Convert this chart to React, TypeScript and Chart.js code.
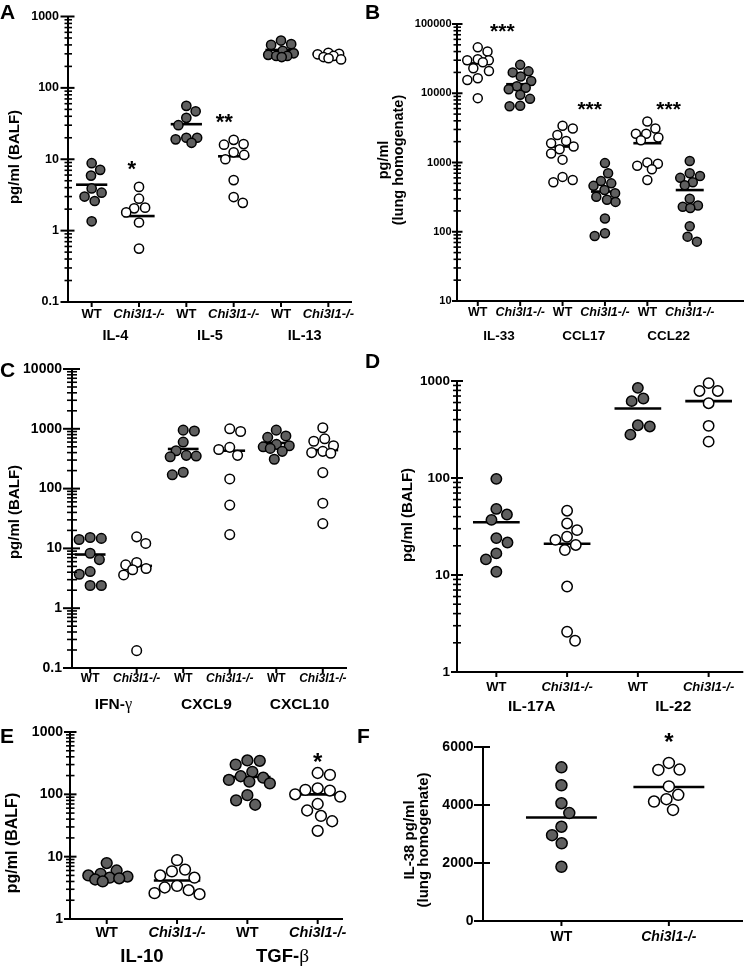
import React, { useEffect, useRef } from 'react';
import { Chart, registerables } from 'chart.js';

Chart.register(...registerables);

const FONT = "'Liberation Sans', Arial, sans-serif";
const GRAY = '#5f5f5f';
const KO = 'Chi3l1-/-';

// ---------------- DATA ----------------
// Panel A (BALF, pg/ml)
const catsA = ['WT', KO, 'WT', KO, 'WT', KO];
const groupsA = ['IL-4', 'IL-5', 'IL-13'];
const aIL4WT = [8.8, 7.1, 5.9, 3.9, 3.4, 3.0, 2.6, 1.35];
const aIL4KO = [4.1, 2.8, 2.1, 2.05, 1.8, 1.3, 0.56];
const aIL5WT = [56, 47, 38, 30, 20, 19, 20, 17];
const aIL5KO = [18.7, 16.3, 16, 12.5, 11.5, 10, 5.1, 2.95, 2.45];
const aIL13WT = [460, 410, 400, 330, 305, 290, 280, 280, 270];
const aIL13KO = [310, 300, 295, 280, 270, 260, 250];
const meansA = [4.4, 1.6, 31, 11, 340, 300];
const starsA = [{ x: 0.85, y: 8.8, t: '*' }, { x: 2.8, y: 40, t: '**' }];
const yLabelsA = [0.1, 1, 10, 100, 1000];

// Panel B (lung homogenate, pg/ml)
const catsB = ['WT', KO, 'WT', KO, 'WT', KO];
const groupsB = ['IL-33', 'CCL17', 'CCL22'];
const bIL33WT = [46000, 40000, 31000, 30000, 30000, 28000, 23000, 21000, 16500, 15500, 8500];
const bIL33KO = [25700, 20700, 20000, 17500, 15000, 12600, 12000, 11400, 9500, 8300, 6600, 6500];
const bCCL17WT = [3400, 3100, 2500, 2050, 1900, 1700, 1550, 1350, 1100, 620, 560, 520];
const bCCL17KO = [980, 700, 540, 500, 460, 400, 360, 320, 290, 270, 155, 95, 87];
const bCCL22WT = [3900, 3100, 2600, 2600, 2300, 2100, 1000, 960, 900, 800, 560];
const bCCL22KO = [1050, 700, 640, 600, 520, 470, 300, 240, 230, 220, 120, 85, 72];
const meansB = [27000, 13500, 1700, 380, 1900, 400];
const starsB = [{ x: 0.58, y: 92500, t: '***' }, { x: 2.64, y: 7050, t: '***' }, { x: 4.5, y: 7050, t: '***' }];
const yLabelsB = [10, 100, 1000, 10000, 100000];

// Panel C (BALF, pg/ml)
const catsC = ['WT', KO, 'WT', KO, 'WT', KO];
const groupsC = ['IFN-γ', 'CXCL9', 'CXCL10'];
const cIFNGWT = [15.2, 14.7, 14.1, 8.3, 6.5, 4.1, 3.7, 2.4, 2.4];
const cIFNGKO = [15.6, 12.1, 5.8, 5.3, 4.6, 4.4, 3.6, 0.195];
const cCXCL9WT = [950, 920, 600, 430, 360, 350, 340, 188, 170];
const cCXCL9KO = [1000, 900, 490, 450, 360, 145, 53, 17];
const cCXCL10WT = [950, 760, 720, 550, 520, 500, 470, 420, 310];
const cCXCL10KO = [1040, 680, 620, 520, 420, 400, 390, 185, 57, 26];
const meansC = [7.9, 5.1, 460, 430, 580, 440];
const yLabelsC = [0.1, 1, 10, 100, 1000, 10000];

// Panel D (BALF, pg/ml)
const catsD = ['WT', KO, 'WT', KO];
const groupsD = ['IL-17A', 'IL-22'];
const dIL17WT = [98, 48, 42, 37, 24, 21.6, 16.7, 14.5, 10.8];
const dIL17KO = [46, 34, 29, 24.8, 23, 20.4, 18.1, 7.6, 2.6, 2.1];
const dIL22WT = [850, 660, 620, 350, 340, 280];
const dIL22KO = [950, 790, 790, 590, 345, 237];
const meansD = [35, 21, 520, 620];
const yLabelsD = [1, 10, 100, 1000];

// Panel E (BALF, pg/ml)
const catsE = ['WT', KO, 'WT', KO];
const groupsE = ['IL-10', 'TGF-β'];
const eIL10WT = [7.9, 6.0, 5.3, 5.0, 4.8, 4.6, 4.5, 4.3, 4.0];
const eIL10KO = [8.8, 6.2, 5.8, 5.0, 4.6, 3.4, 3.2, 2.9, 2.6, 2.5];
const eTGFBWT = [350, 345, 300, 230, 195, 185, 170, 160, 150, 97, 80, 68];
const eTGFBKO = [220, 205, 125, 118, 115, 100, 92, 70, 55, 45, 37, 26];
const meansE = [5.1, 4.15, 190, 100];
const starsE = [{ x: 3, y: 405, t: '*' }];
const yLabelsE = [1, 10, 100, 1000];

// Panel F (IL-38, lung homogenate)
const catsF = ['WT', KO];
const fWT = [5300, 4680, 4060, 3720, 3250, 2960, 2680, 1870];
const fKO = [5450, 5220, 5210, 4640, 4350, 4200, 4120, 3830];
const meansF = [3570, 4620];
const starsF = [{ x: 1, y: 6370, t: '*' }];
const yLabelsF = [0, 2000, 4000, 6000];

// ---------------- LAYOUT ----------------
interface Spec {
  key: string;
  rect: [number, number, number, number];
  area: [number, number, number, number];
  log: boolean; yMin: number; yMax: number; yLabels: number[];
  xMin: number; xMax: number;
  cats: string[]; groups: string[];
  series: number[][]; filled: boolean[]; means: number[];
  stars: { x: number; y: number; t: string }[];
  title: string[]; titleX: number[]; titleY: number; titleSize: number;
  yTickSize: number; yTickPad: number; xTickSize: number; xTickPad: number;
  groupY: number; groupSize: number; radius: number; starSize: number;
  major: [number, number]; minor: [number, number]; spread: number;
}

const specs: Spec[] = [
  {
    key: 'A', rect: [0, 0, 375, 345], area: [68, 16, 352, 302],
    log: true, yMin: 0.1, yMax: 1000, yLabels: yLabelsA, xMin: -0.5, xMax: 5.5,
    cats: catsA, groups: groupsA,
    series: [aIL4WT, aIL4KO, aIL5WT, aIL5KO, aIL13WT, aIL13KO], filled: [true, false, true, false, true, false],
    means: meansA, stars: starsA,
    title: ['pg/ml (BALF)'], titleX: [15], titleY: 157, titleSize: 15,
    yTickSize: 12.5, yTickPad: 9, xTickSize: 13, xTickPad: 5,
    groupY: 335, groupSize: 14.5, radius: 4.6, starSize: 22,
    major: [7.5, 6.5], minor: [3.5, 4], spread: 0.27,
  },
  {
    key: 'B', rect: [370, 0, 380, 345], area: [457, 24, 748, 301],
    log: true, yMin: 10, yMax: 100000, yLabels: yLabelsB, xMin: -0.49, xMax: 6.28,
    cats: catsB, groups: groupsB,
    series: [bIL33WT, bIL33KO, bCCL17WT, bCCL17KO, bCCL22WT, bCCL22KO], filled: [false, true, false, true, false, true],
    means: meansB, stars: starsB,
    title: ['pg/ml', '(lung homogenate)'], titleX: [384, 399], titleY: 160, titleSize: 14.5,
    yTickSize: 11, yTickPad: 5.5, xTickSize: 12.5, xTickPad: 4.5,
    groupY: 335, groupSize: 13.5, radius: 4.5, starSize: 21,
    major: [5, 5.5], minor: [3.5, 4], spread: 0.27,
  },
  {
    key: 'C', rect: [0, 345, 375, 370], area: [72, 369, 347, 668],
    log: true, yMin: 0.1, yMax: 10000, yLabels: yLabelsC, xMin: -0.39, xMax: 5.52,
    cats: catsC, groups: groupsC,
    series: [cIFNGWT, cIFNGKO, cCXCL9WT, cCXCL9KO, cCXCL10WT, cCXCL10KO], filled: [true, false, true, false, true, false],
    means: meansC, stars: [],
    title: ['pg/ml (BALF)'], titleX: [15], titleY: 512, titleSize: 15,
    yTickSize: 14, yTickPad: 10, xTickSize: 12, xTickPad: 3.8,
    groupY: 703, groupSize: 15.5, radius: 4.8, starSize: 22,
    major: [9, 8], minor: [5, 5], spread: 0.28,
  },
  {
    key: 'D', rect: [370, 345, 380, 370], area: [457, 381, 748, 672],
    log: true, yMin: 1, yMax: 1000, yLabels: yLabelsD, xMin: -0.556, xMax: 3.49,
    cats: catsD, groups: groupsD,
    series: [dIL17WT, dIL17KO, dIL22WT, dIL22KO], filled: [true, false, true, false],
    means: meansD, stars: [],
    title: ['pg/ml (BALF)'], titleX: [408], titleY: 515, titleSize: 15,
    yTickSize: 13.5, yTickPad: 7, xTickSize: 13, xTickPad: 7.2,
    groupY: 705, groupSize: 15.5, radius: 5.2, starSize: 22,
    major: [6, 6], minor: [4, 4], spread: 0.28,
  },
  {
    key: 'E', rect: [0, 715, 375, 251], area: [70, 732, 343, 919],
    log: true, yMin: 1, yMax: 1000, yLabels: yLabelsE, xMin: -0.522, xMax: 3.36,
    cats: catsE, groups: groupsE,
    series: [eIL10WT, eIL10KO, eTGFBWT, eTGFBKO], filled: [true, false, true, false],
    means: meansE, stars: starsE,
    title: ['pg/ml (BALF)'], titleX: [13], titleY: 843, titleSize: 16,
    yTickSize: 14, yTickPad: 7, xTickSize: 14.5, xTickPad: 5.3,
    groupY: 955, groupSize: 18.5, radius: 5.4, starSize: 24,
    major: [6, 6.5], minor: [4, 4.5], spread: 0.32,
  },
  {
    key: 'F', rect: [370, 715, 380, 251], area: [483, 747, 745, 921],
    log: false, yMin: 0, yMax: 6000, yLabels: yLabelsF, xMin: -0.73, xMax: 1.69,
    cats: catsF, groups: [],
    series: [fWT, fKO], filled: [true, false],
    means: meansF, stars: starsF,
    title: ['IL-38 pg/ml', '(lung homogenate)'], titleX: [410, 424], titleY: 840, titleSize: 15,
    yTickSize: 14, yTickPad: 9.5, xTickSize: 14, xTickPad: 7.6,
    groupY: 0, groupSize: 15, radius: 5.5, starSize: 24,
    major: [9, 7], minor: [0, 0], spread: 0.28,
  },
];

const letters = [
  { t: 'A', x: 0, base: 18.3 },
  { t: 'B', x: 365, base: 18.3 },
  { t: 'C', x: 0, base: 376.7 },
  { t: 'D', x: 365, base: 368 },
  { t: 'E', x: 0, base: 743 },
  { t: 'F', x: 357, base: 743 },
];

// ---------------- HELPERS ----------------
function yTickValues(p: Spec): number[] {
  if (!p.log) return p.yLabels.slice();
  const out: number[] = [];
  const e0 = Math.round(Math.log10(p.yMin));
  const e1 = Math.round(Math.log10(p.yMax));
  for (let e = e0; e < e1; e++) {
    for (let k = 1; k <= 9; k++) out.push(k * Math.pow(10, e));
  }
  out.push(p.yMax);
  return out;
}

function labelFor(p: Spec, v: number): string | null {
  const hit = p.yLabels.find((l) => Math.abs(l - v) <= Math.abs(l) * 1e-9 + 1e-12);
  return hit === undefined ? null : String(hit);
}

// beeswarm with a capped half-width; overlaps allowed only when the band is full
function swarm(py: number[], d: number, maxOff: number): number[] {
  const order = py.map((_, i) => i).sort((a, b) => py[a] - py[b]);
  const placed: { x: number; y: number }[] = [];
  const out = py.map(() => 0);
  for (const i of order) {
    const y = py[i];
    const near = placed.filter((q) => Math.abs(q.y - y) < d);
    const bias = placed.reduce((s, q) => s + Math.sign(q.x), 0);
    const cands = [0];
    for (const q of near) {
      const dx = Math.sqrt(d * d - (q.y - y) ** 2);
      cands.push(q.x + dx, q.x - dx);
    }
    const ok = cands
      .filter((c) => Math.abs(c) <= maxOff + 0.01)
      .filter((c) => near.every((q) => (q.x - c) ** 2 + (q.y - y) ** 2 >= d * d - 0.01));
    let best: number;
    if (ok.length) {
      ok.sort((a, b) => {
        const da = Math.abs(a) - Math.abs(b);
        if (Math.abs(da) > 0.5) return da;
        return bias > 0 ? a - b : b - a;
      });
      best = ok[0];
    } else {
      best = 0;
      let bestScore = -1;
      for (let c = -maxOff; c <= maxOff + 0.001; c += 0.5) {
        const score = Math.min(...near.map((q) => Math.hypot(q.x - c, q.y - y)));
        if (score > bestScore + 0.05 || (Math.abs(score - bestScore) <= 0.05 && Math.abs(c) < Math.abs(best))) {
          bestScore = score;
          best = c;
        }
      }
    }
    out[i] = best;
    placed.push({ x: best, y });
  }
  return out;
}

function drawMixed(ctx: CanvasRenderingContext2D, text: string, cx: number, base: number, size: number) {
  const m = text.match(/^(.*?)([\u0370-\u03ff])$/);
  const f1 = `bold ${size}px ${FONT}`;
  ctx.textAlign = 'left';
  ctx.textBaseline = 'alphabetic';
  if (!m) {
    ctx.font = f1;
    const w = ctx.measureText(text).width;
    ctx.fillText(text, cx - w / 2, base);
    return;
  }
  const f2 = `${size * 1.05}px 'Liberation Serif', 'DejaVu Serif', serif`;
  ctx.font = f1;
  const w1 = ctx.measureText(m[1]).width;
  ctx.font = f2;
  const w2 = ctx.measureText(m[2]).width;
  const x0 = cx - (w1 + w2) / 2;
  ctx.font = f1;
  ctx.fillText(m[1], x0, base);
  ctx.font = f2;
  ctx.fillText(m[2], x0 + w1, base);
}

function PanelChart({ p }: { p: Spec }) {
  const ref = useRef<HTMLCanvasElement | null>(null);
  const [cx, cy, cw, ch] = p.rect;

  useEffect(() => {
    const canvas = ref.current;
    if (!canvas) return;
    const [L, T, R, B] = p.area;

    const pointSets = p.series.map((vals, i) => ({
      type: 'scatter' as const,
      data: vals.map((v) => ({ x: i, y: v })),
      pointRadius: p.radius,
      pointHoverRadius: p.radius,
      pointBackgroundColor: p.filled[i] ? GRAY : '#ffffff',
      pointBorderColor: '#000000',
      pointBorderWidth: 1.5,
      showLine: false,
      clip: false,
      order: 0,
    }));
    const meanSets = p.means.map((m, i) => ({
      type: 'scatter' as const,
      data: [{ x: i - 0.33, y: m }, { x: i + 0.33, y: m }],
      showLine: true,
      borderColor: '#000000',
      borderWidth: 2.6,
      pointRadius: 0,
      pointHoverRadius: 0,
      clip: false,
      order: 1,
    }));

    const deco = {
      id: 'deco' + p.key,
      afterDraw(chart: any) {
        const { ctx, chartArea: a, scales } = chart;
        const xs = scales.x;
        const ys = scales.y;
        ctx.save();
        ctx.strokeStyle = '#000';
        ctx.fillStyle = '#000';
        ctx.lineCap = 'butt';
        const line = (x1: number, y1: number, x2: number, y2: number, w: number) => {
          ctx.lineWidth = w;
          ctx.beginPath();
          ctx.moveTo(x1, y1);
          ctx.lineTo(x2, y2);
          ctx.stroke();
        };
        line(a.left, a.top, a.left, a.bottom + 1, 2);
        line(a.left - 1, a.bottom, a.right, a.bottom, 2);
        for (const t of ys.ticks) {
          const py = ys.getPixelForValue(t.value);
          const maj = labelFor(p, t.value) !== null;
          const [l, r] = maj ? p.major : p.minor;
          if (l + r > 0) line(a.left - l, py, a.left + r, py, maj ? 2 : 1.6);
        }
        p.cats.forEach((_, i) => {
          const px = xs.getPixelForValue(i);
          line(px, a.bottom, px, a.bottom + 5, 2);
        });
        p.groups.forEach((g, gi) => {
          const c = (xs.getPixelForValue(gi * 2) + xs.getPixelForValue(gi * 2 + 1)) / 2;
          drawMixed(ctx, g, c, p.groupY - cy + 0.36 * p.groupSize, p.groupSize);
        });
        ctx.font = `bold ${p.starSize}px ${FONT}`;
        ctx.textAlign = 'center';
        ctx.textBaseline = 'alphabetic';
        for (const s of p.stars) {
          const px = xs.getPixelForValue(s.x);
          const py = ys.getPixelForValue(s.y);
          ctx.fillText(s.t, px, py + 0.56 * p.starSize);
        }
        ctx.font = `bold ${p.titleSize}px ${FONT}`;
        ctx.textAlign = 'center';
        ctx.textBaseline = 'middle';
        p.title.forEach((tl, k) => {
          ctx.save();
          ctx.translate(p.titleX[k] - cx, p.titleY - cy);
          ctx.rotate(-Math.PI / 2);
          ctx.fillText(tl, 0, 0);
          ctx.restore();
        });
        ctx.restore();
      },
    };

    const chart = new Chart(canvas, {
      type: 'scatter',
      data: { datasets: [...pointSets, ...meanSets] as any },
      options: {
        animation: false,
        responsive: false,
        maintainAspectRatio: false,
        devicePixelRatio: 1,
        events: [],
        layout: { padding: { left: 0, top: T - cy, right: cx + cw - R, bottom: 0 } },
        plugins: { legend: { display: false }, tooltip: { enabled: false }, title: { display: false } },
        scales: {
          x: {
            type: 'linear',
            min: p.xMin,
            max: p.xMax,
            bounds: 'data',
            offset: false,
            grid: { display: false, drawTicks: false },
            border: { display: false },
            afterBuildTicks: (s: any) => {
              s.ticks = p.cats.map((_, i) => ({ value: i }));
            },
            afterFit: (s: any) => {
              s.height = cy + ch - B;
            },
            ticks: {
              autoSkip: false,
              maxRotation: 0,
              minRotation: 0,
              padding: p.xTickPad,
              color: '#000',
              callback: (v: any) => p.cats[Math.round(Number(v))] ?? '',
              font: (c: any) => ({
                family: FONT,
                size: p.xTickSize,
                weight: 'bold',
                style: p.cats[c.index] === KO ? 'italic' : 'normal',
              }),
            },
          } as any,
          y: {
            type: p.log ? 'logarithmic' : 'linear',
            min: p.yMin,
            max: p.yMax,
            bounds: 'data',
            grid: { display: false, drawTicks: false },
            border: { display: false },
            afterBuildTicks: (s: any) => {
              s.ticks = yTickValues(p).map((v) => ({ value: v }));
            },
            afterFit: (s: any) => {
              s.width = L - cx;
            },
            ticks: {
              autoSkip: false,
              padding: p.yTickPad,
              color: '#000',
              font: { family: FONT, size: p.yTickSize, weight: 'bold' },
              callback: (v: any) => labelFor(p, Number(v)) ?? '',
            },
          } as any,
        },
      },
      plugins: [deco],
    });

    const xs: any = chart.scales.x;
    const ys: any = chart.scales.y;
    const unit = xs.getPixelForValue(1) - xs.getPixelForValue(0);
    p.series.forEach((vals, i) => {
      const py = vals.map((v) => ys.getPixelForValue(v));
      const offs = swarm(py, 2 * p.radius + 1.6, p.spread * unit);
      (chart.data.datasets[i] as any).data = vals.map((v, k) => ({ x: i + offs[k] / unit, y: v }));
    });
    chart.update('none');

    return () => chart.destroy();
  }, [p]);

  return (
    <canvas
      ref={ref}
      width={cw}
      height={ch}
      style={{ position: 'absolute', left: cx, top: cy, width: cw, height: ch }}
    />
  );
}

export default function App() {
  return (
    <div
      style={{
        position: 'absolute',
        left: 0,
        top: 0,
        width: 750,
        height: 966,
        background: '#ffffff',
        overflow: 'hidden',
      }}
    >
      {specs.map((p) => (
        <PanelChart key={p.key} p={p} />
      ))}
      {letters.map((l) => (
        <div
          key={l.t}
          style={{
            position: 'absolute',
            left: l.x,
            top: l.base - 17.8,
            fontFamily: FONT,
            fontWeight: 'bold',
            fontSize: 21,
            lineHeight: '21px',
            color: '#000',
          }}
        >
          {l.t}
        </div>
      ))}
    </div>
  );
}
